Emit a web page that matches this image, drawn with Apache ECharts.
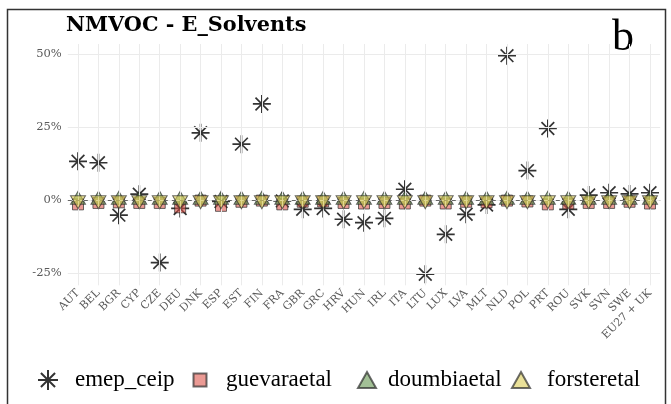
<!DOCTYPE html>
<html>
<head>
<meta charset="utf-8">
<script src="https://cdn.jsdelivr.net/npm/echarts@6/dist/echarts.min.js"></script>
<style>
  html, body { margin: 0; padding: 0; background: #fff; }
  #chart { width: 671px; height: 404px; }
</style>
</head>
<body>
<div id="chart"></div>
<script>
// Countries (and the EU27 + UK total) along the x axis
const categories = ['AUT','BEL','BGR','CYP','CZE','DEU','DNK','ESP','EST','FIN','FRA','GBR','GRC','HRV','HUN','IRL','ITA','LTU','LUX','LVA','MLT','NLD','POL','PRT','ROU','SVK','SVN','SWE','EU27 + UK'];

// Relative differences in % per inventory
const emepCeip    = [13.3, 12.8, -5.2, 2.0, -21.5, -2.9, 23.1, -0.5, 19.2, 33.0, -0.3, -3.2, -2.9, -6.6, -7.8, -6.3, 3.7, -25.5, -11.8, -4.9, -1.7, 49.6, 10.1, 24.6, -3.2, 1.7, 2.5, 2.1, 2.5];
const guevaraetal = [-1.5, -1.0, -0.8, -1.0, -1.0, -2.5, -0.2, -2.0, -0.6, -0.2, -1.5, -0.6, -0.5, -1.0, -1.2, -1.0, -1.2, -0.2, -1.2, -0.6, -0.8, -0.2, -0.5, -1.5, -1.2, -1.0, -1.0, -0.6, -1.2];
const doumbiaetal = [0, 0, 0, 0, 0, 0, 0, 0, 0, 0, 0, 0, 0, 0, 0, 0, 0, 0, 0, 0, 0, 0, 0, 0, 0, 0, 0, 0, 0];
const forsteretal = [0, 0, 0, 0, 0, 0, 0, 0, 0, 0, 0, 0, 0, 0, 0, 0, 0, 0, 0, 0, 0, 0, 0, 0, 0, 0, 0, 0, 0];

// Y tick labels
const yTicks = [-25, 0, 25, 50];

const serif = 'DejaVu Serif';
const legendFont = 'Liberation Serif';
// eight-armed asterisk
const starPath = 'path://M0,-10L0,10M-10,0L10,0M-7.07,-7.07L7.07,7.07M-7.07,7.07L7.07,-7.07';

const chart = echarts.init(document.getElementById('chart'), null, { renderer: 'canvas' });

const gridLineStyle = { color: '#ebebeb', width: 1, type: 'solid' };

const legendText = pad => ({ fontFamily: legendFont, fontSize: 23, color: '#000', padding: [0, 0, 0, pad] });

const option = {
  animation: false,
  backgroundColor: '#fff',
  title: {
    text: 'NMVOC - E_Solvents',
    left: 66, top: 15, padding: 0,
    textStyle: { fontFamily: serif, fontWeight: 'bold', fontSize: 20.8, color: '#000' }
  },
  graphic: [
    { type: 'rect', silent: true, z: 0,
      shape: { x: 7.5, y: 9.5, width: 658, height: 420 },
      style: { fill: 'none', stroke: '#333', lineWidth: 1.5 } },
    { type: 'text', left: 612, top: 16, silent: true,
      style: { text: 'b', fontFamily: legendFont, fontSize: 44, fill: '#000' } }
  ],
  grid: { left: 67.8, width: 592.4, top: 44, height: 241.3, containLabel: false },
  xAxis: {
    type: 'category',
    data: categories,
    boundaryGap: true,
    axisLine: { show: false },
    axisTick: { show: false },
    splitLine: { show: false },
    axisLabel: {
      rotate: 45, margin: 6, interval: 0,
      fontFamily: serif, fontSize: 11, color: '#5a5a5a'
    }
  },
  yAxis: {
    type: 'value',
    min: -29.3, max: 53.6,
    axisLine: { show: false },
    axisTick: { show: false },
    splitLine: { show: false },
    axisLabel: {
      customValues: yTicks,
      margin: 6,
      fontFamily: serif, fontSize: 11.5, color: '#5a5a5a',
      formatter: v => v + '%'
    }
  },
  legend: [
    { data: ['emep_ceip'], left: 37, top: 368.5, padding: 0, itemWidth: 20, itemHeight: 20, textStyle: legendText(12) },
    { data: ['guevaraetal'], left: 192.5, top: 368.5, padding: 0, itemWidth: 13, itemHeight: 13, textStyle: legendText(14.5) },
    { data: ['doumbiaetal'], left: 357, top: 368.5, padding: 0, itemWidth: 18, itemHeight: 16, textStyle: legendText(7) },
    { data: ['forsteretal'], left: 511, top: 368.5, padding: 0, itemWidth: 18, itemHeight: 16, textStyle: legendText(12) }
  ],
  series: [
    {
      // background grid and zero reference line
      type: 'line', data: [], silent: true, z: 1,
      markLine: {
        silent: true, symbol: 'none', animation: false,
        label: { show: false },
        data: [
          ...categories.map(c => ({ xAxis: c, lineStyle: gridLineStyle })),
          ...yTicks.map(v => ({ yAxis: v, lineStyle: gridLineStyle })),
          { yAxis: 0, lineStyle: { color: '#666', width: 1, type: [4, 4] } }
        ]
      }
    },
    {
      name: 'emep_ceip', type: 'scatter', data: emepCeip, z: 2,
      symbol: starPath, symbolSize: 18,
      itemStyle: { color: 'transparent', borderColor: '#000', borderWidth: 1.7 }
    },
    {
      name: 'guevaraetal', type: 'scatter', data: guevaraetal, z: 3,
      symbol: 'rect', symbolSize: 11,
      itemStyle: { color: 'rgba(220,80,70,0.72)', borderColor: 'rgba(40,40,40,0.85)', borderWidth: 1 }
    },
    {
      name: 'doumbiaetal', type: 'scatter', data: doumbiaetal, z: 4,
      symbol: 'triangle', symbolSize: [15, 13], symbolOffset: [0, -2.2],
      itemStyle: { color: 'rgba(100,150,80,0.75)', borderColor: 'rgba(40,40,40,0.85)', borderWidth: 1 }
    },
    {
      name: 'forsteretal', type: 'scatter', data: forsteretal, z: 5,
      symbol: 'triangle', symbolRotate: 180, symbolSize: [15, 13], symbolOffset: [0, 2.2],
      itemStyle: { color: 'rgba(220,205,85,0.75)', borderColor: 'rgba(40,40,40,0.85)', borderWidth: 1 }
    }
  ]
};

chart.setOption(option);
</script>
</body>
</html>
